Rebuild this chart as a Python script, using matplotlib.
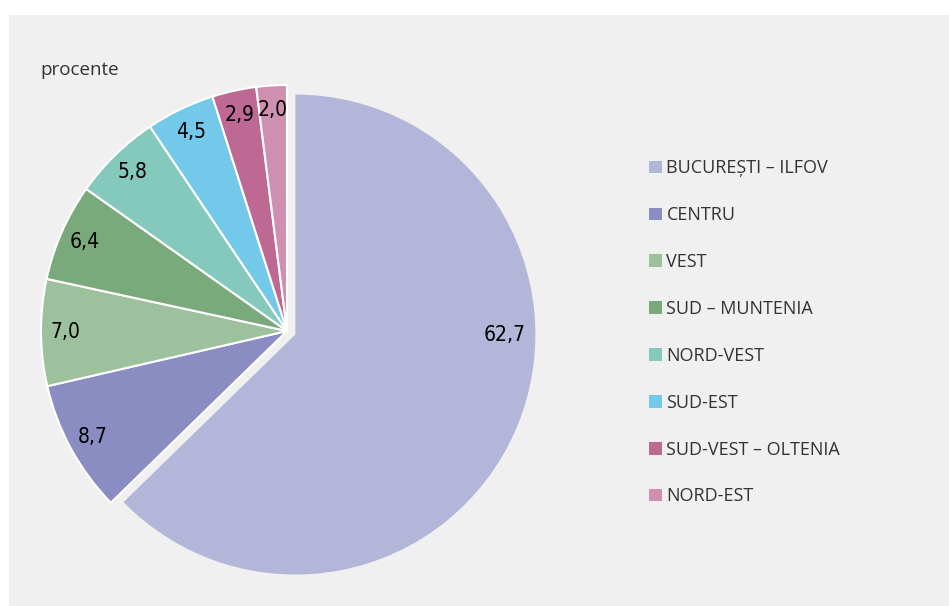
import matplotlib.pyplot as plt
import numpy as np
from matplotlib.patches import Rectangle

regions = ['BUCUREȘTI – ILFOV', 'CENTRU', 'VEST', 'SUD – MUNTENIA',
           'NORD-VEST', 'SUD-EST', 'SUD-VEST – OLTENIA', 'NORD-EST']
shares = [62.7, 8.7, 7.0, 6.4, 5.8, 4.5, 2.9, 2.0]
colors = ['#b3b6d8', '#8a8cc2', '#9cc19c', '#7aaa7c',
          '#84c9bb', '#74c8ea', '#be6894', '#cf8fb0']
explode = [0.037, 0, 0, 0, 0, 0, 0, 0]

W, H = 949, 606
fig = plt.figure(figsize=(W / 100, H / 100), dpi=100, facecolor='white')

# grey panel behind everything
fig.patches.append(Rectangle((9 / W, 0), 1 - 9 / W, 1 - 15 / H,
                             transform=fig.transFigure, facecolor='#f0f0f0',
                             edgecolor='none', zorder=-10))

# pie axes: centre at (287, 331) px, radius 246 px
r = 246
cx, cy = 287, H - 331
size = 2.2 * r
ax = fig.add_axes([(cx - size / 2) / W, (cy - size / 2) / H, size / W, size / H])
ax.set_facecolor('none')

wedges, _ = ax.pie(shares, colors=colors, startangle=90, counterclock=False,
                   explode=explode,
                   wedgeprops=dict(edgecolor='white', linewidth=1.5))
# the pulled-out slice is drawn a little smaller, as in the original
wedges[0].set_radius(240 / r)
wedges[0].set_linewidth(0)
ax.set_xlim(-1.1, 1.1)
ax.set_ylim(-1.1, 1.1)
ax.set_aspect('auto')
ax.axis('off')

for i, (w, v) in enumerate(zip(wedges, shares)):
    if i == 0:
        ang, d = 0.0, 0.85
    else:
        ang, d = np.deg2rad((w.theta1 + w.theta2) / 2), 0.9
    x = w.center[0] + d * np.cos(ang)
    y = w.center[1] + d * np.sin(ang)
    ax.text(x, y, f'{v:.1f}'.replace('.', ','), ha='center', va='center',
            fontsize=15, color='black', fontstretch='condensed',
            family=['DejaVu Sans'])

fig.text(40 / W, 1 - 70 / H, 'procente', ha='left', va='center',
         fontsize=13.5, color='#333333', family=['Open Sans', 'DejaVu Sans'])

leg = fig.legend(wedges, regions, loc='upper left',
                 bbox_to_anchor=(633 / W, 1 - 143 / H),
                 frameon=False, handlelength=0.7, handleheight=0.7,
                 handletextpad=0.25, labelspacing=1.6,
                 prop={'family': ['Open Sans', 'DejaVu Sans'], 'size': 13})
for t in leg.get_texts():
    t.set_color('#333333')
for h in leg.legend_handles:
    h.set_edgecolor('none')

fig.savefig('out.png', dpi=100, facecolor='white')
